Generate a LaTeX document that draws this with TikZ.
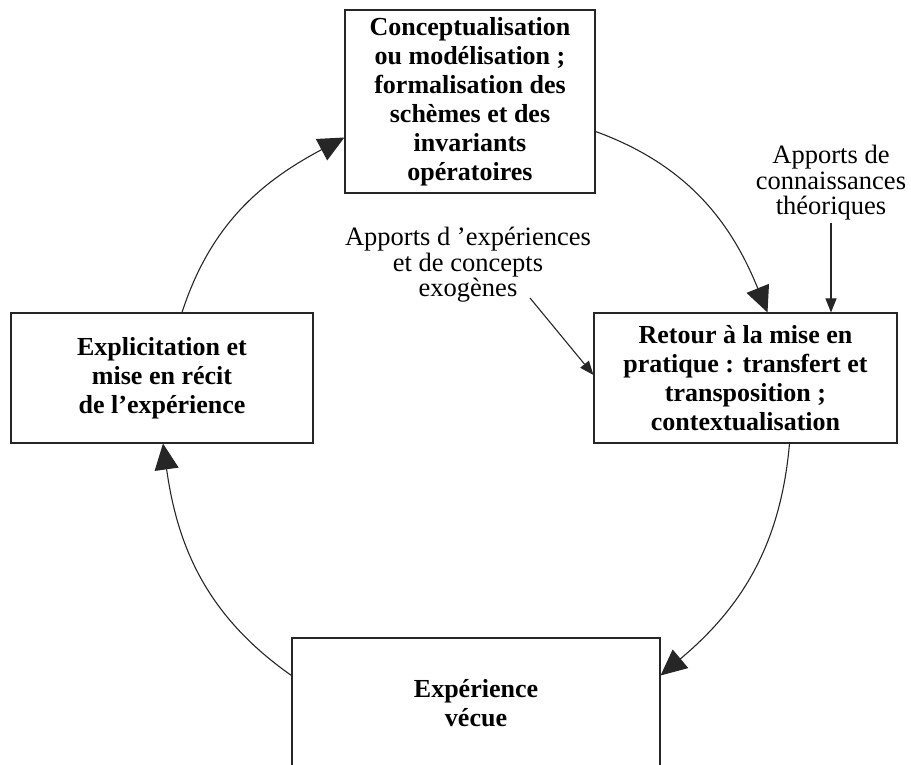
\documentclass[tikz,border=0pt]{standalone}
\usepackage{fontspec}
\setmainfont{Liberation Serif}
\usetikzlibrary{arrows.meta}

\begin{document}
\begin{tikzpicture}[
    x=1pt, y=1pt,
    cycBox/.style={draw=black!85, line width=1.1pt, align=center, inner sep=0pt,
        font=\fontsize{26}{29}\selectfont\bfseries},
    cycArrow/.style={black!85, line width=1.1pt, -{Triangle[length=26pt,width=24pt]}},
    cycInput/.style={align=center, inner sep=2pt, font=\fontsize{26.5}{25.5}\selectfont},
    cycInputArrow/.style={black!85, line width=1.1pt, -{Triangle[length=14pt,width=11pt]}}
]
    \useasboundingbox (0,0) rectangle (911,765);
    \clip (0,0) rectangle (911,765);

    % les quatre étapes
    \node[cycBox, minimum width=250pt, minimum height=183pt] (concept) at (470,663.5)
        {Conceptualisation\\ou modélisation ;\\formalisation des\\schèmes et des\\invariants\\opératoires};
    \node[cycBox, minimum width=303pt, minimum height=130pt] (retour) at (745.5,387)
        {Retour à la mise en\\pratique : transfert et\\transposition ;\\contextualisation};
    \node[cycBox, minimum width=368pt, minimum height=131pt] (vecue) at (476,61.5)
        {Expérience\\vécue};
    \node[cycBox, minimum width=302pt, minimum height=130pt] (explic) at (162,387)
        {Explicitation et\\mise en récit\\de l’expérience};

    % apports extérieurs
    \node[cycInput] (apportsTheo) at (831,582) {Apports de\\connaissances\\théoriques};
    \node[cycInput] (apportsExo) at (468,500) {Apports d ’expériences\\et de concepts\\exogènes};
    \coordinate (exoStart) at (530,467);

    % le cycle
    \draw[cycArrow] ([yshift=-30pt]concept.east) to[out=-20, in=112] ([xshift=22pt]retour.north);
    \draw[cycArrow] ([xshift=44pt]retour.south) to[out=-95, in=40] ([yshift=28pt]vecue.east);
    \draw[cycArrow] ([yshift=28pt]vecue.west) to[out=145, in=-82] ([xshift=1pt]explic.south);
    \draw[cycArrow] ([xshift=20pt]explic.north) to[out=72, in=208] ([yshift=-36pt]concept.west);

    % flèches des apports
    \draw[cycInputArrow] (apportsTheo.south) -- (apportsTheo.south |- retour.north);
    \draw[cycInputArrow] (exoStart) -- ([yshift=3pt]retour.west);
\end{tikzpicture}
\end{document}
